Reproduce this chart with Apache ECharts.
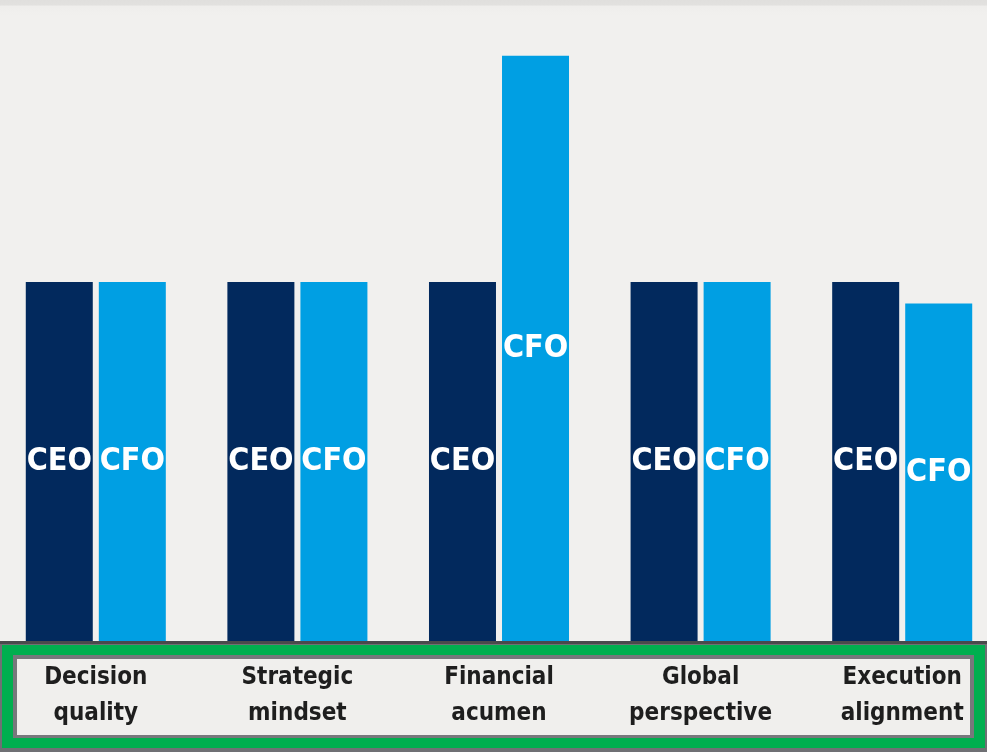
<!DOCTYPE html>
<html>
<head>
<meta charset="utf-8">
<script src="https://cdn.jsdelivr.net/npm/echarts@6/dist/echarts.min.js"></script>
<style>
  html, body { margin: 0; padding: 0; background: #f1f0ee; overflow: hidden; }
  /* the plot runs a few pixels past both page edges */
  #chart { position: absolute; left: -5px; top: 0; width: 1008px; height: 752px; }
</style>
</head>
<body>
<div id="chart"></div>
<script>
// Leadership attributes compared for CEOs and CFOs (relative index)
const categories = ['Decision\nquality', 'Strategic\nmindset', 'Financial\nacumen', 'Global\nperspective', 'Execution\nalignment'];
const ceoValues = [100, 100, 100, 100, 100];
const cfoValues = [100, 100, 163, 100, 94];
const seriesNames = ['CEO', 'CFO'];

const NAVY = '#02295d';
const BLUE = '#009fe3';
const FONT = '"Liberation Sans Narrow", "Arial Narrow", "DejaVu Sans Condensed", sans-serif';
const OX = 5; // page x = chart x - OX
const barLabel = {
  show: true,
  position: 'inside',
  formatter: '{a}',
  color: '#ffffff',
  fontFamily: FONT,
  fontWeight: 'bold',
  fontSize: 32
};

const chart = echarts.init(document.getElementById('chart'), null, { renderer: 'canvas' });
chart.setOption({
  backgroundColor: '#f1f0ee',
  animation: false,
  graphic: [
    // soft band along the top edge
    { type: 'rect', z: -5, shape: { x: 0, y: 0, width: 1008, height: 16 },
      style: { fill: new echarts.graphic.LinearGradient(0, 0, 0, 1, [
        { offset: 0, color: '#e0dfdd' }, { offset: 0.3, color: '#e2e1df' }, { offset: 0.4, color: '#efeeec' }, { offset: 1, color: '#f1f0ee' }]) } },
    // framed strip under the bars holding the category names
    { type: 'rect', z: -5, shape: { x: OX, y: 641, width: 987, height: 111 }, style: { fill: '#6f7074' } },
    { type: 'rect', z: -5, shape: { x: OX, y: 641, width: 987, height: 3 }, style: { fill: '#4a4a4c' } },
    { type: 'rect', z: -5, shape: { x: OX + 2, y: 645, width: 983, height: 103 }, style: { fill: '#00af4f' } },
    { type: 'rect', z: -5, shape: { x: OX + 13, y: 655, width: 961, height: 83 }, style: { fill: '#77787c' } },
    { type: 'rect', z: -5, shape: { x: OX + 17, y: 659, width: 953, height: 76 }, style: { fill: '#f0efed' } }
  ],
  grid: { left: 0, right: 0, top: 30.7, bottom: 111, containLabel: false },
  xAxis: {
    type: 'category',
    data: categories,
    z: 10,
    axisLine: { show: false },
    axisTick: { show: false },
    axisLabel: {
      interval: 0,
      margin: 19,
      color: '#1e1e1e',
      fontFamily: FONT,
      fontWeight: 'bold',
      fontSize: 24,
      lineHeight: 36
    }
  },
  yAxis: {
    type: 'value',
    min: 0,
    max: 170,
    show: false,
    splitLine: { show: false }
  },
  series: [
    { name: seriesNames[0], type: 'bar', data: ceoValues, barWidth: 67, barGap: '9%',
      itemStyle: { color: NAVY }, label: barLabel },
    { name: seriesNames[1], type: 'bar', data: cfoValues, barWidth: 67,
      itemStyle: { color: BLUE }, label: barLabel }
  ]
});
</script>
</body>
</html>
